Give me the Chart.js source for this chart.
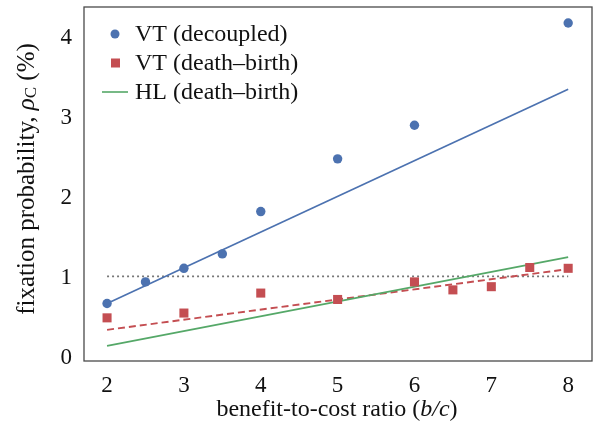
<!DOCTYPE html>
<html>
<head>
<meta charset="utf-8">
<script src="https://cdn.jsdelivr.net/npm/chart.js@4"></script>
<style>
  html, body { margin: 0; padding: 0; background: #fff; }
  #wrap { width: 595px; height: 430px; }
</style>
</head>
<body>
<div id="wrap"><canvas id="chart"></canvas></div>
<script>
// benefit-to-cost ratio values and fixation probabilities (%)
const bcDecoupled = [2, 2.5, 3, 3.5, 4, 5, 6, 8];
const rhoDecoupled = [0.68, 0.95, 1.12, 1.30, 1.83, 2.49, 2.91, 4.19];
const bcDeathBirth = [2, 3, 4, 5, 6, 6.5, 7, 7.5, 8];
const rhoDeathBirth = [0.50, 0.56, 0.81, 0.73, 0.95, 0.85, 0.89, 1.13, 1.12];
const bcFit = [2, 8];
const fitDecoupled = [0.68, 3.36];
const fitDeathBirth = [0.35, 1.11];
const hlDeathBirth = [0.15, 1.26];
const neutralLevel = [1.02, 1.02];
const xTicks = [2, 3, 4, 5, 6, 7, 8];
const yTicks = [0, 1, 2, 3, 4];

const serif = '"Liberation Serif", "Times New Roman", serif';
const blue = '#4c72b0';
const red = '#c44e52';
const green = '#55a868';

function pts(xs, ys) {
    return xs.map((x, i) => ({ x: x, y: ys[i] }));
}

// box around the plot, legend and the two axis titles
const decorations = {
    id: 'decorations',
    afterDraw(chart) {
        const ctx = chart.ctx;
        const a = chart.chartArea;
        ctx.save();
        ctx.strokeStyle = '#4a4a4a';
        ctx.lineWidth = 1.3;
        ctx.strokeRect(a.left, a.top, a.right - a.left, a.bottom - a.top);

        // legend
        ctx.font = '24px ' + serif;
        ctx.textBaseline = 'middle';
        ctx.textAlign = 'left';
        const rows = [
            { label: 'VT (decoupled)', kind: 'circle', color: blue, y: 34 },
            { label: 'VT (death\u2013birth)', kind: 'rect', color: red, y: 63 },
            { label: 'HL (death\u2013birth)', kind: 'line', color: green, y: 92 }
        ];
        rows.forEach(r => {
            ctx.fillStyle = r.color;
            ctx.strokeStyle = r.color;
            if (r.kind === 'circle') {
                ctx.beginPath();
                ctx.arc(115, r.y, 4.5, 0, Math.PI * 2);
                ctx.fill();
            } else if (r.kind === 'rect') {
                ctx.fillRect(111, r.y - 4.5, 9, 9);
            } else {
                ctx.lineWidth = 1.6;
                ctx.beginPath();
                ctx.moveTo(102, r.y);
                ctx.lineTo(128, r.y);
                ctx.stroke();
            }
            ctx.fillStyle = '#111';
            ctx.fillText(r.label, 135, r.y + 1);
        });

        // x axis title with italic b/c
        const xParts = [
            { t: 'benefit-to-cost ratio (', f: '24px ' + serif },
            { t: 'b/c', f: 'italic 24px ' + serif },
            { t: ')', f: '24px ' + serif }
        ];
        let w = 0;
        xParts.forEach(p => { ctx.font = p.f; w += ctx.measureText(p.t).width; });
        let x = 337 - w / 2;
        xParts.forEach(p => {
            ctx.font = p.f;
            ctx.fillText(p.t, x, 410);
            x += ctx.measureText(p.t).width;
        });

        // y axis title with italic rho and subscript C
        const yParts = [
            { t: 'fixation probability, ', f: '25px ' + serif, dy: 0 },
            { t: '\u03c1', f: 'italic 25px ' + serif, dy: 0 },
            { t: 'C', f: '17px ' + serif, dy: 5 },
            { t: ' (%)', f: '25px ' + serif, dy: 0 }
        ];
        w = 0;
        yParts.forEach(p => { ctx.font = p.f; w += ctx.measureText(p.t).width; });
        ctx.translate(27, 179);
        ctx.rotate(-Math.PI / 2);
        x = -w / 2;
        yParts.forEach(p => {
            ctx.font = p.f;
            ctx.fillText(p.t, x, p.dy);
            x += ctx.measureText(p.t).width;
        });
        ctx.restore();
    }
};

function initializeChart() {
    new Chart(document.getElementById('chart'), {
        type: 'scatter',
        data: {
            datasets: [{
                label: 'VT (decoupled)',
                data: pts(bcDecoupled, rhoDecoupled),
                backgroundColor: blue,
                borderColor: blue,
                pointStyle: 'circle',
                pointRadius: 4.7,
                borderWidth: 0
            }, {
                label: 'VT (death\u2013birth)',
                data: pts(bcDeathBirth, rhoDeathBirth),
                backgroundColor: red,
                borderColor: red,
                pointStyle: 'rect',
                pointRadius: 6.4,
                borderWidth: 0
            }, {
                label: 'HL (death\u2013birth)',
                data: pts(bcFit, hlDeathBirth),
                showLine: true,
                borderColor: green,
                borderWidth: 1.7,
                pointRadius: 0
            }, {
                label: 'VT fit (decoupled)',
                data: pts(bcFit, fitDecoupled),
                showLine: true,
                borderColor: blue,
                borderWidth: 1.7,
                pointRadius: 0
            }, {
                label: 'VT fit (death\u2013birth)',
                data: pts(bcFit, fitDeathBirth),
                showLine: true,
                borderColor: red,
                borderWidth: 1.9,
                borderDash: [7, 4],
                pointRadius: 0
            }, {
                label: 'neutral',
                data: pts(bcFit, neutralLevel),
                showLine: true,
                borderColor: '#777',
                borderWidth: 1.8,
                borderDash: [2, 3],
                pointRadius: 0
            }]
        },
        options: {
            responsive: true,
            maintainAspectRatio: false,
            animation: false,
            layout: { autoPadding: false, padding: { top: 7, right: 3, left: 0, bottom: 0 } },
            plugins: {
                legend: { display: false },
                tooltip: { enabled: false }
            },
            scales: {
                x: {
                    type: 'linear',
                    min: 1.7,
                    max: 8.31,
                    grid: { display: false, drawTicks: false },
                    border: { display: false },
                    afterBuildTicks: s => { s.ticks = xTicks.map(v => ({ value: v })); },
                    afterFit: s => { s.height = 69; s.paddingLeft = 0; s.paddingRight = 0; },
                    ticks: {
                        color: '#111',
                        padding: 11,
                        maxRotation: 0,
                        font: { family: serif, size: 23 }
                    }
                },
                y: {
                    type: 'linear',
                    min: -0.04,
                    max: 4.39,
                    grid: { display: false, drawTicks: false },
                    border: { display: false },
                    afterBuildTicks: s => { s.ticks = yTicks.map(v => ({ value: v })); },
                    afterFit: s => { s.width = 84; s.paddingTop = 0; s.paddingBottom = 0; },
                    ticks: {
                        color: '#111',
                        padding: 12,
                        font: { family: serif, size: 23 }
                    }
                }
            }
        },
        plugins: [decorations]
    });
}

document.addEventListener('DOMContentLoaded', initializeChart);
</script>
</body>
</html>
